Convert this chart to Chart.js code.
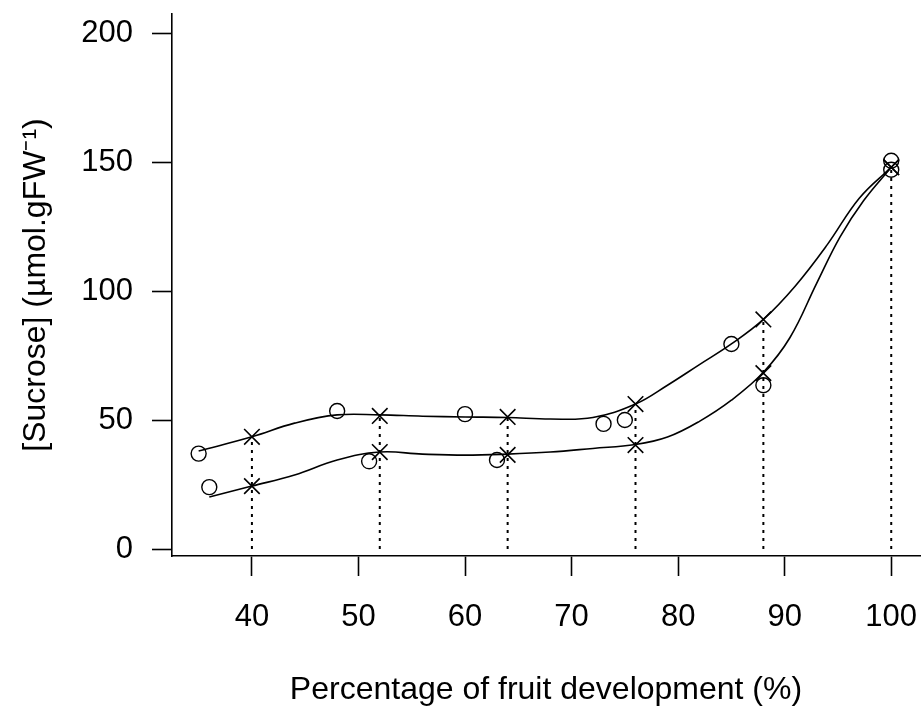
<!DOCTYPE html>
<html>
<head>
<meta charset="utf-8">
<script src="https://cdn.jsdelivr.net/npm/chart.js@4/dist/chart.umd.min.js"></script>
<style>
  html, body { margin: 0; padding: 0; background: #fff; }
  #wrap { width: 922px; height: 711px; }
</style>
</head>
<body>
<div id="wrap"><canvas id="sucroseChart" width="922" height="711"></canvas></div>
<script>
// Axis ticks
const xTicks = [40, 50, 60, 70, 80, 90, 100];
const yTicks = [0, 50, 100, 150, 200];

// Open circles (individual measurements)
const circleX = [35, 36, 48, 51, 60, 63, 73, 75, 85, 88, 100, 100];
const circleY = [37, 24, 53.5, 34, 52.3, 34.5, 48.5, 50, 79.5, 63.5, 150.5, 147];

// Crosses at the sampling stages
const stageX = [40, 52, 64, 76, 88, 100];
const upperCross = [43.5, 51.6, 51.2, 56.2, 89, 148];
const lowerCross = [24.4, 37.6, 36.5, 40.3, 68.2, 148];

// Smoothed curves
const upperCurveX = [35, 40, 44, 48, 52, 56, 60, 64, 68, 72, 76, 79, 82, 85, 88, 91, 94, 97, 100];
const upperCurveY = [38, 43.5, 48.8, 52, 52, 51.5, 51.2, 51, 50.4, 51, 56.2, 63.5, 71.5, 79.5, 89, 102, 118, 136, 148];
const lowerCurveX = [36, 40, 44, 48, 52, 56, 60, 64, 68, 72, 76, 79, 82, 85, 88, 90.5, 93, 95.2, 97.4, 100];
const lowerCurveY = [20.2, 24.4, 28.7, 34.5, 37.6, 36.8, 36.4, 36.8, 37.6, 39, 40.5, 43.4, 49.5, 57.7, 68.5, 82, 103, 121, 135, 148];

const toPoints = (xs, ys) => xs.map((x, i) => ({ x: x, y: ys[i] }));

// dotted drop lines from the axis up to the upper cross
const dropPoints = [];
stageX.forEach((x, i) => {
    dropPoints.push({ x: x, y: 0 });
    dropPoints.push({ x: x, y: upperCross[i] });
    dropPoints.push({ x: x, y: null });
});

const FONT = "'Liberation Sans', Arial, sans-serif";

const ctx = document.getElementById('sucroseChart').getContext('2d');
new Chart(ctx, {
    type: 'scatter',
    data: {
        datasets: [
            {
                label: 'circles',
                data: toPoints(circleX, circleY),
                pointStyle: 'circle',
                pointRadius: 7.5,
                borderColor: '#000',
                borderWidth: 1.4,
                backgroundColor: 'rgba(0,0,0,0)'
            },
            {
                label: 'upper crosses',
                data: toPoints(stageX, upperCross),
                pointStyle: 'crossRot',
                pointRadius: 11,
                borderColor: '#000',
                borderWidth: 1.6
            },
            {
                label: 'lower crosses',
                data: toPoints(stageX, lowerCross),
                pointStyle: 'crossRot',
                pointRadius: 11,
                borderColor: '#000',
                borderWidth: 1.6
            },
            {
                label: 'upper curve',
                type: 'line',
                data: toPoints(upperCurveX, upperCurveY),
                showLine: true,
                pointRadius: 0,
                borderColor: '#000',
                borderWidth: 1.6,
                tension: 0.4,
                fill: false
            },
            {
                label: 'lower curve',
                type: 'line',
                data: toPoints(lowerCurveX, lowerCurveY),
                showLine: true,
                pointRadius: 0,
                borderColor: '#000',
                borderWidth: 1.6,
                tension: 0.4,
                fill: false
            },
            {
                label: 'drops',
                type: 'line',
                data: dropPoints,
                showLine: true,
                spanGaps: false,
                pointRadius: 0,
                borderColor: '#000',
                borderWidth: 2,
                borderDash: [3, 5],
                fill: false
            }
        ]
    },
    options: {
        responsive: false,
        animation: false,
        devicePixelRatio: 1,
        layout: { autoPadding: false, padding: { top: 14, right: 2, left: 0, bottom: 0 } },
        plugins: {
            legend: { display: false },
            tooltip: { enabled: false }
        },
        scales: {
            x: {
                type: 'linear',
                min: 32.5,
                max: 102.7,
                afterBuildTicks: scale => { scale.ticks = xTicks.map(v => ({ value: v })); },
                afterFit: scale => { scale.height = 155; scale.paddingLeft = 0; scale.paddingRight = 0; },
                border: { display: true, color: '#000', width: 1.6 },
                grid: { drawOnChartArea: false, drawTicks: true, tickLength: 20, tickColor: '#000', tickWidth: 1.6 },
                ticks: { color: '#000', padding: 23, maxRotation: 0, font: { family: FONT, size: 31 } },
                title: {
                    display: true,
                    text: 'Percentage of fruit development (%)',
                    color: '#000',
                    font: { family: FONT, size: 32 },
                    padding: { top: 0, bottom: 2 }
                }
            },
            y: {
                type: 'linear',
                min: -2.7,
                max: 207.4,
                afterBuildTicks: scale => { scale.ticks = yTicks.map(v => ({ value: v })); },
                afterFit: scale => { scale.width = 172; scale.paddingTop = 0; scale.paddingBottom = 0; },
                border: { display: true, color: '#000', width: 1.6 },
                grid: { drawOnChartArea: false, drawTicks: true, tickLength: 20, tickColor: '#000', tickWidth: 1.6 },
                ticks: { color: '#000', padding: 19, font: { family: FONT, size: 31 } },
                title: {
                    display: true,
                    text: '[Sucrose] (µmol.gFW⁻¹)',
                    color: '#000',
                    font: { family: FONT, size: 32 },
                    padding: { top: 17, bottom: 0 }
                }
            }
        }
    }
});
</script>
</body>
</html>
